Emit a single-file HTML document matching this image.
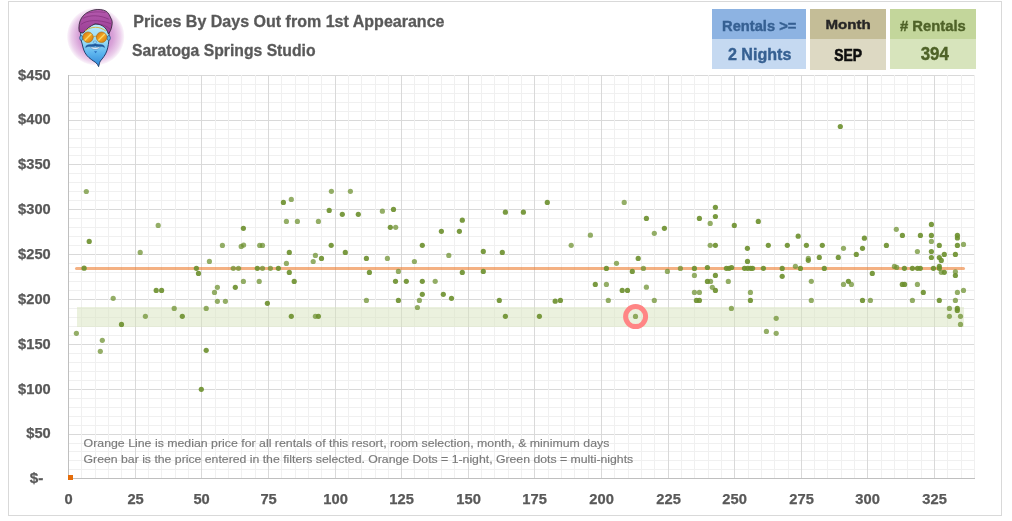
<!DOCTYPE html><html><head><meta charset="utf-8"><title>Prices By Days Out</title><style>html,body{margin:0;padding:0;background:#fff;}body{width:1012px;height:521px;overflow:hidden;}svg{display:block;}</style></head><body><svg width="1012" height="521" viewBox="0 0 1012 521"><rect x="8.5" y="1.5" width="993" height="514" fill="#fff" stroke="#d9d9d9" stroke-width="1"/><g shape-rendering="crispEdges" stroke-width="1"><line x1="68" y1="469.5" x2="975" y2="469.5" stroke="#f0f0f0"/><line x1="68" y1="460.5" x2="975" y2="460.5" stroke="#f0f0f0"/><line x1="68" y1="451.5" x2="975" y2="451.5" stroke="#f0f0f0"/><line x1="68" y1="443.5" x2="975" y2="443.5" stroke="#f0f0f0"/><line x1="68" y1="434.5" x2="975" y2="434.5" stroke="#d9d9d9"/><line x1="68" y1="425.5" x2="975" y2="425.5" stroke="#f0f0f0"/><line x1="68" y1="416.5" x2="975" y2="416.5" stroke="#f0f0f0"/><line x1="68" y1="407.5" x2="975" y2="407.5" stroke="#f0f0f0"/><line x1="68" y1="398.5" x2="975" y2="398.5" stroke="#f0f0f0"/><line x1="68" y1="389.5" x2="975" y2="389.5" stroke="#d9d9d9"/><line x1="68" y1="380.5" x2="975" y2="380.5" stroke="#f0f0f0"/><line x1="68" y1="371.5" x2="975" y2="371.5" stroke="#f0f0f0"/><line x1="68" y1="362.5" x2="975" y2="362.5" stroke="#f0f0f0"/><line x1="68" y1="353.5" x2="975" y2="353.5" stroke="#f0f0f0"/><line x1="68" y1="344.5" x2="975" y2="344.5" stroke="#d9d9d9"/><line x1="68" y1="335.5" x2="975" y2="335.5" stroke="#f0f0f0"/><line x1="68" y1="326.5" x2="975" y2="326.5" stroke="#f0f0f0"/><line x1="68" y1="317.5" x2="975" y2="317.5" stroke="#f0f0f0"/><line x1="68" y1="308.5" x2="975" y2="308.5" stroke="#f0f0f0"/><line x1="68" y1="299.5" x2="975" y2="299.5" stroke="#d9d9d9"/><line x1="68" y1="290.5" x2="975" y2="290.5" stroke="#f0f0f0"/><line x1="68" y1="281.5" x2="975" y2="281.5" stroke="#f0f0f0"/><line x1="68" y1="272.5" x2="975" y2="272.5" stroke="#f0f0f0"/><line x1="68" y1="263.5" x2="975" y2="263.5" stroke="#f0f0f0"/><line x1="68" y1="254.5" x2="975" y2="254.5" stroke="#d9d9d9"/><line x1="68" y1="245.5" x2="975" y2="245.5" stroke="#f0f0f0"/><line x1="68" y1="236.5" x2="975" y2="236.5" stroke="#f0f0f0"/><line x1="68" y1="227.5" x2="975" y2="227.5" stroke="#f0f0f0"/><line x1="68" y1="218.5" x2="975" y2="218.5" stroke="#f0f0f0"/><line x1="68" y1="209.5" x2="975" y2="209.5" stroke="#d9d9d9"/><line x1="68" y1="200.5" x2="975" y2="200.5" stroke="#f0f0f0"/><line x1="68" y1="191.5" x2="975" y2="191.5" stroke="#f0f0f0"/><line x1="68" y1="182.5" x2="975" y2="182.5" stroke="#f0f0f0"/><line x1="68" y1="173.5" x2="975" y2="173.5" stroke="#f0f0f0"/><line x1="68" y1="164.5" x2="975" y2="164.5" stroke="#d9d9d9"/><line x1="68" y1="155.5" x2="975" y2="155.5" stroke="#f0f0f0"/><line x1="68" y1="147.5" x2="975" y2="147.5" stroke="#f0f0f0"/><line x1="68" y1="138.5" x2="975" y2="138.5" stroke="#f0f0f0"/><line x1="68" y1="129.5" x2="975" y2="129.5" stroke="#f0f0f0"/><line x1="68" y1="120.5" x2="975" y2="120.5" stroke="#d9d9d9"/><line x1="68" y1="111.5" x2="975" y2="111.5" stroke="#f0f0f0"/><line x1="68" y1="102.5" x2="975" y2="102.5" stroke="#f0f0f0"/><line x1="68" y1="93.5" x2="975" y2="93.5" stroke="#f0f0f0"/><line x1="68" y1="84.5" x2="975" y2="84.5" stroke="#f0f0f0"/><line x1="68" y1="75.5" x2="975" y2="75.5" stroke="#d9d9d9"/><line x1="81.5" y1="75" x2="81.5" y2="478" stroke="#f0f0f0"/><line x1="95.5" y1="75" x2="95.5" y2="478" stroke="#f0f0f0"/><line x1="108.5" y1="75" x2="108.5" y2="478" stroke="#f0f0f0"/><line x1="121.5" y1="75" x2="121.5" y2="478" stroke="#f0f0f0"/><line x1="135.5" y1="75" x2="135.5" y2="478" stroke="#d9d9d9"/><line x1="148.5" y1="75" x2="148.5" y2="478" stroke="#f0f0f0"/><line x1="161.5" y1="75" x2="161.5" y2="478" stroke="#f0f0f0"/><line x1="175.5" y1="75" x2="175.5" y2="478" stroke="#f0f0f0"/><line x1="188.5" y1="75" x2="188.5" y2="478" stroke="#f0f0f0"/><line x1="201.5" y1="75" x2="201.5" y2="478" stroke="#d9d9d9"/><line x1="215.5" y1="75" x2="215.5" y2="478" stroke="#f0f0f0"/><line x1="228.5" y1="75" x2="228.5" y2="478" stroke="#f0f0f0"/><line x1="241.5" y1="75" x2="241.5" y2="478" stroke="#f0f0f0"/><line x1="255.5" y1="75" x2="255.5" y2="478" stroke="#f0f0f0"/><line x1="268.5" y1="75" x2="268.5" y2="478" stroke="#d9d9d9"/><line x1="281.5" y1="75" x2="281.5" y2="478" stroke="#f0f0f0"/><line x1="295.5" y1="75" x2="295.5" y2="478" stroke="#f0f0f0"/><line x1="308.5" y1="75" x2="308.5" y2="478" stroke="#f0f0f0"/><line x1="321.5" y1="75" x2="321.5" y2="478" stroke="#f0f0f0"/><line x1="335.5" y1="75" x2="335.5" y2="478" stroke="#d9d9d9"/><line x1="348.5" y1="75" x2="348.5" y2="478" stroke="#f0f0f0"/><line x1="361.5" y1="75" x2="361.5" y2="478" stroke="#f0f0f0"/><line x1="375.5" y1="75" x2="375.5" y2="478" stroke="#f0f0f0"/><line x1="388.5" y1="75" x2="388.5" y2="478" stroke="#f0f0f0"/><line x1="401.5" y1="75" x2="401.5" y2="478" stroke="#d9d9d9"/><line x1="414.5" y1="75" x2="414.5" y2="478" stroke="#f0f0f0"/><line x1="428.5" y1="75" x2="428.5" y2="478" stroke="#f0f0f0"/><line x1="441.5" y1="75" x2="441.5" y2="478" stroke="#f0f0f0"/><line x1="454.5" y1="75" x2="454.5" y2="478" stroke="#f0f0f0"/><line x1="468.5" y1="75" x2="468.5" y2="478" stroke="#d9d9d9"/><line x1="481.5" y1="75" x2="481.5" y2="478" stroke="#f0f0f0"/><line x1="494.5" y1="75" x2="494.5" y2="478" stroke="#f0f0f0"/><line x1="508.5" y1="75" x2="508.5" y2="478" stroke="#f0f0f0"/><line x1="521.5" y1="75" x2="521.5" y2="478" stroke="#f0f0f0"/><line x1="534.5" y1="75" x2="534.5" y2="478" stroke="#d9d9d9"/><line x1="548.5" y1="75" x2="548.5" y2="478" stroke="#f0f0f0"/><line x1="561.5" y1="75" x2="561.5" y2="478" stroke="#f0f0f0"/><line x1="574.5" y1="75" x2="574.5" y2="478" stroke="#f0f0f0"/><line x1="588.5" y1="75" x2="588.5" y2="478" stroke="#f0f0f0"/><line x1="601.5" y1="75" x2="601.5" y2="478" stroke="#d9d9d9"/><line x1="614.5" y1="75" x2="614.5" y2="478" stroke="#f0f0f0"/><line x1="628.5" y1="75" x2="628.5" y2="478" stroke="#f0f0f0"/><line x1="641.5" y1="75" x2="641.5" y2="478" stroke="#f0f0f0"/><line x1="654.5" y1="75" x2="654.5" y2="478" stroke="#f0f0f0"/><line x1="668.5" y1="75" x2="668.5" y2="478" stroke="#d9d9d9"/><line x1="681.5" y1="75" x2="681.5" y2="478" stroke="#f0f0f0"/><line x1="694.5" y1="75" x2="694.5" y2="478" stroke="#f0f0f0"/><line x1="708.5" y1="75" x2="708.5" y2="478" stroke="#f0f0f0"/><line x1="721.5" y1="75" x2="721.5" y2="478" stroke="#f0f0f0"/><line x1="734.5" y1="75" x2="734.5" y2="478" stroke="#d9d9d9"/><line x1="748.5" y1="75" x2="748.5" y2="478" stroke="#f0f0f0"/><line x1="761.5" y1="75" x2="761.5" y2="478" stroke="#f0f0f0"/><line x1="774.5" y1="75" x2="774.5" y2="478" stroke="#f0f0f0"/><line x1="788.5" y1="75" x2="788.5" y2="478" stroke="#f0f0f0"/><line x1="801.5" y1="75" x2="801.5" y2="478" stroke="#d9d9d9"/><line x1="814.5" y1="75" x2="814.5" y2="478" stroke="#f0f0f0"/><line x1="827.5" y1="75" x2="827.5" y2="478" stroke="#f0f0f0"/><line x1="841.5" y1="75" x2="841.5" y2="478" stroke="#f0f0f0"/><line x1="854.5" y1="75" x2="854.5" y2="478" stroke="#f0f0f0"/><line x1="867.5" y1="75" x2="867.5" y2="478" stroke="#d9d9d9"/><line x1="881.5" y1="75" x2="881.5" y2="478" stroke="#f0f0f0"/><line x1="894.5" y1="75" x2="894.5" y2="478" stroke="#f0f0f0"/><line x1="907.5" y1="75" x2="907.5" y2="478" stroke="#f0f0f0"/><line x1="921.5" y1="75" x2="921.5" y2="478" stroke="#f0f0f0"/><line x1="934.5" y1="75" x2="934.5" y2="478" stroke="#d9d9d9"/><line x1="947.5" y1="75" x2="947.5" y2="478" stroke="#f0f0f0"/><line x1="961.5" y1="75" x2="961.5" y2="478" stroke="#f0f0f0"/><line x1="974.5" y1="75" x2="974.5" y2="478" stroke="#f0f0f0"/></g><rect x="77" y="307" width="887" height="20" fill="#d7e4bd" fill-opacity="0.5"/><line x1="76.5" y1="268.4" x2="963.5" y2="268.4" stroke="#ed7d31" stroke-opacity="0.6" stroke-width="3" stroke-linecap="round"/><g shape-rendering="crispEdges"><line x1="68.5" y1="75" x2="68.5" y2="479" stroke="#bfbfbf"/><line x1="68" y1="478.5" x2="975" y2="478.5" stroke="#bfbfbf"/></g><g fill="#6b8f2c"><circle cx="86.3" cy="191.5" r="2.6" fill-opacity="0.72"/><circle cx="283.4" cy="202.4" r="2.6" fill-opacity="0.9"/><circle cx="291.3" cy="199.4" r="2.6" fill-opacity="0.72"/><circle cx="331.4" cy="191.3" r="2.6" fill-opacity="0.72"/><circle cx="350.4" cy="191.3" r="2.6" fill-opacity="0.72"/><circle cx="329.2" cy="210.4" r="2.6" fill-opacity="0.9"/><circle cx="342.3" cy="214.3" r="2.6" fill-opacity="0.9"/><circle cx="358.3" cy="214.3" r="2.6" fill-opacity="0.9"/><circle cx="382.4" cy="211.2" r="2.6" fill-opacity="0.72"/><circle cx="393.5" cy="209.4" r="2.6" fill-opacity="0.9"/><circle cx="547.3" cy="202.4" r="2.6" fill-opacity="0.9"/><circle cx="624.2" cy="202.4" r="2.6" fill-opacity="0.72"/><circle cx="505.4" cy="212.2" r="2.6" fill-opacity="0.9"/><circle cx="523.4" cy="212.2" r="2.6" fill-opacity="0.9"/><circle cx="715.4" cy="207.3" r="2.6" fill-opacity="0.9"/><circle cx="840.3" cy="126.5" r="2.6" fill-opacity="0.9"/><circle cx="89.2" cy="241.4" r="2.6" fill-opacity="0.9"/><circle cx="84.1" cy="268.2" r="2.6" fill-opacity="0.9"/><circle cx="158.2" cy="225.4" r="2.6" fill-opacity="0.72"/><circle cx="140.2" cy="252.4" r="2.6" fill-opacity="0.72"/><circle cx="113.2" cy="298.3" r="2.6" fill-opacity="0.72"/><circle cx="156.2" cy="290.4" r="2.6" fill-opacity="0.9"/><circle cx="161.6" cy="290.4" r="2.6" fill-opacity="0.9"/><circle cx="196.4" cy="268.3" r="2.6" fill-opacity="0.9"/><circle cx="198.5" cy="273.4" r="2.6" fill-opacity="0.9"/><circle cx="209.4" cy="261.4" r="2.6" fill-opacity="0.72"/><circle cx="222.4" cy="245.4" r="2.6" fill-opacity="0.72"/><circle cx="243.4" cy="228.3" r="2.6" fill-opacity="0.9"/><circle cx="241.2" cy="246.4" r="2.6" fill-opacity="0.72"/><circle cx="243.6" cy="245.1" r="2.6" fill-opacity="0.72"/><circle cx="259.7" cy="245.4" r="2.6" fill-opacity="0.72"/><circle cx="262.5" cy="245.4" r="2.6" fill-opacity="0.72"/><circle cx="233.3" cy="268.3" r="2.6" fill-opacity="0.72"/><circle cx="238.5" cy="268.3" r="2.6" fill-opacity="0.72"/><circle cx="257.3" cy="268.3" r="2.6" fill-opacity="0.9"/><circle cx="262.5" cy="268.3" r="2.6" fill-opacity="0.72"/><circle cx="270.4" cy="268.3" r="2.6" fill-opacity="0.72"/><circle cx="278.4" cy="268.3" r="2.6" fill-opacity="0.9"/><circle cx="243.4" cy="281.4" r="2.6" fill-opacity="0.72"/><circle cx="259.2" cy="281.4" r="2.6" fill-opacity="0.72"/><circle cx="217.4" cy="287.3" r="2.6" fill-opacity="0.72"/><circle cx="235.3" cy="287.3" r="2.6" fill-opacity="0.9"/><circle cx="214.5" cy="292.4" r="2.6" fill-opacity="0.72"/><circle cx="217.4" cy="301.3" r="2.6" fill-opacity="0.72"/><circle cx="225.4" cy="301.3" r="2.6" fill-opacity="0.72"/><circle cx="286.4" cy="221.4" r="2.6" fill-opacity="0.72"/><circle cx="297.4" cy="221.4" r="2.6" fill-opacity="0.72"/><circle cx="318.4" cy="221.4" r="2.6" fill-opacity="0.72"/><circle cx="390.3" cy="227.3" r="2.6" fill-opacity="0.9"/><circle cx="395.7" cy="227.3" r="2.6" fill-opacity="0.72"/><circle cx="441.4" cy="231.3" r="2.6" fill-opacity="0.9"/><circle cx="331.2" cy="245.3" r="2.6" fill-opacity="0.9"/><circle cx="422.3" cy="245.3" r="2.6" fill-opacity="0.9"/><circle cx="289.3" cy="252.4" r="2.6" fill-opacity="0.9"/><circle cx="345.3" cy="252.4" r="2.6" fill-opacity="0.9"/><circle cx="315.4" cy="255.4" r="2.6" fill-opacity="0.72"/><circle cx="321.5" cy="258.4" r="2.6" fill-opacity="0.9"/><circle cx="313.2" cy="261.5" r="2.6" fill-opacity="0.72"/><circle cx="366.4" cy="258.4" r="2.6" fill-opacity="0.9"/><circle cx="387.4" cy="258.4" r="2.6" fill-opacity="0.72"/><circle cx="414.4" cy="261.5" r="2.6" fill-opacity="0.72"/><circle cx="448.8" cy="255.4" r="2.6" fill-opacity="0.72"/><circle cx="286.4" cy="263.4" r="2.6" fill-opacity="0.72"/><circle cx="289.3" cy="272.4" r="2.6" fill-opacity="0.9"/><circle cx="369.4" cy="272.4" r="2.6" fill-opacity="0.9"/><circle cx="398.4" cy="271.4" r="2.6" fill-opacity="0.72"/><circle cx="294.2" cy="281.4" r="2.6" fill-opacity="0.9"/><circle cx="395.5" cy="281.3" r="2.6" fill-opacity="0.9"/><circle cx="406.3" cy="281.3" r="2.6" fill-opacity="0.9"/><circle cx="422.3" cy="281.3" r="2.6" fill-opacity="0.9"/><circle cx="435.2" cy="281.3" r="2.6" fill-opacity="0.72"/><circle cx="422.3" cy="294.3" r="2.6" fill-opacity="0.9"/><circle cx="443.3" cy="294.3" r="2.6" fill-opacity="0.9"/><circle cx="267.4" cy="303.3" r="2.6" fill-opacity="0.9"/><circle cx="366.4" cy="300.4" r="2.6" fill-opacity="0.72"/><circle cx="398.4" cy="300.4" r="2.6" fill-opacity="0.9"/><circle cx="419.4" cy="300.4" r="2.6" fill-opacity="0.72"/><circle cx="462.3" cy="220.2" r="2.6" fill-opacity="0.9"/><circle cx="459.4" cy="231.3" r="2.6" fill-opacity="0.9"/><circle cx="590.4" cy="235.2" r="2.6" fill-opacity="0.72"/><circle cx="571.2" cy="245.3" r="2.6" fill-opacity="0.72"/><circle cx="483.3" cy="251.4" r="2.6" fill-opacity="0.9"/><circle cx="502.3" cy="252.4" r="2.6" fill-opacity="0.9"/><circle cx="638.2" cy="258.4" r="2.6" fill-opacity="0.9"/><circle cx="616.5" cy="263.3" r="2.6" fill-opacity="0.72"/><circle cx="606.4" cy="268.4" r="2.6" fill-opacity="0.9"/><circle cx="462.3" cy="272.4" r="2.6" fill-opacity="0.9"/><circle cx="483.3" cy="271.4" r="2.6" fill-opacity="0.9"/><circle cx="632.3" cy="271.4" r="2.6" fill-opacity="0.9"/><circle cx="595.3" cy="284.4" r="2.6" fill-opacity="0.9"/><circle cx="606.4" cy="284.4" r="2.6" fill-opacity="0.72"/><circle cx="622.2" cy="290.4" r="2.6" fill-opacity="0.9"/><circle cx="627.5" cy="290.4" r="2.6" fill-opacity="0.9"/><circle cx="451.5" cy="298.3" r="2.6" fill-opacity="0.9"/><circle cx="499.3" cy="300.4" r="2.6" fill-opacity="0.9"/><circle cx="555.2" cy="301.2" r="2.6" fill-opacity="0.9"/><circle cx="560.4" cy="300.4" r="2.6" fill-opacity="0.9"/><circle cx="608.3" cy="300.4" r="2.6" fill-opacity="0.72"/><circle cx="646.4" cy="218.4" r="2.6" fill-opacity="0.9"/><circle cx="699.4" cy="218.4" r="2.6" fill-opacity="0.9"/><circle cx="715.4" cy="216.5" r="2.6" fill-opacity="0.9"/><circle cx="710.2" cy="223.4" r="2.6" fill-opacity="0.72"/><circle cx="734.3" cy="225.4" r="2.6" fill-opacity="0.9"/><circle cx="758.3" cy="221.4" r="2.6" fill-opacity="0.9"/><circle cx="664.4" cy="228.3" r="2.6" fill-opacity="0.9"/><circle cx="654.3" cy="233.3" r="2.6" fill-opacity="0.72"/><circle cx="798.2" cy="236.2" r="2.6" fill-opacity="0.9"/><circle cx="710.2" cy="245.3" r="2.6" fill-opacity="0.72"/><circle cx="715.4" cy="245.3" r="2.6" fill-opacity="0.9"/><circle cx="747.4" cy="248.3" r="2.6" fill-opacity="0.9"/><circle cx="768.3" cy="245.3" r="2.6" fill-opacity="0.9"/><circle cx="787.3" cy="245.3" r="2.6" fill-opacity="0.9"/><circle cx="806.4" cy="245.3" r="2.6" fill-opacity="0.9"/><circle cx="822.3" cy="245.3" r="2.6" fill-opacity="0.9"/><circle cx="747.5" cy="261.4" r="2.6" fill-opacity="0.9"/><circle cx="808.3" cy="258.4" r="2.6" fill-opacity="0.72"/><circle cx="808.3" cy="260.3" r="2.6" fill-opacity="0.9"/><circle cx="819.3" cy="257.4" r="2.6" fill-opacity="0.9"/><circle cx="795.4" cy="266.3" r="2.6" fill-opacity="0.72"/><circle cx="643.4" cy="268.4" r="2.6" fill-opacity="0.72"/><circle cx="667.4" cy="271.4" r="2.6" fill-opacity="0.72"/><circle cx="680.4" cy="268.4" r="2.6" fill-opacity="0.72"/><circle cx="694.4" cy="268.4" r="2.6" fill-opacity="0.9"/><circle cx="707.4" cy="267.5" r="2.6" fill-opacity="0.9"/><circle cx="726.4" cy="268.3" r="2.6" fill-opacity="0.9"/><circle cx="729.1" cy="268.3" r="2.6" fill-opacity="0.9"/><circle cx="731.6" cy="267.5" r="2.6" fill-opacity="0.9"/><circle cx="744.5" cy="268.3" r="2.6" fill-opacity="0.9"/><circle cx="747.6" cy="268.3" r="2.6" fill-opacity="0.9"/><circle cx="750.6" cy="268.3" r="2.6" fill-opacity="0.9"/><circle cx="752.6" cy="268.3" r="2.6" fill-opacity="0.9"/><circle cx="763.4" cy="268.3" r="2.6" fill-opacity="0.9"/><circle cx="782.2" cy="268.4" r="2.6" fill-opacity="0.9"/><circle cx="800.4" cy="268.4" r="2.6" fill-opacity="0.9"/><circle cx="824.3" cy="268.4" r="2.6" fill-opacity="0.9"/><circle cx="694.4" cy="275.4" r="2.6" fill-opacity="0.72"/><circle cx="715.4" cy="275.4" r="2.6" fill-opacity="0.9"/><circle cx="782.2" cy="276.3" r="2.6" fill-opacity="0.9"/><circle cx="707.4" cy="281.4" r="2.6" fill-opacity="0.9"/><circle cx="710.6" cy="281.4" r="2.6" fill-opacity="0.72"/><circle cx="728.3" cy="281.4" r="2.6" fill-opacity="0.72"/><circle cx="811.3" cy="281.3" r="2.6" fill-opacity="0.72"/><circle cx="646.4" cy="287.2" r="2.6" fill-opacity="0.72"/><circle cx="712.3" cy="287.3" r="2.6" fill-opacity="0.72"/><circle cx="715.4" cy="290.4" r="2.6" fill-opacity="0.9"/><circle cx="694.4" cy="292.4" r="2.6" fill-opacity="0.72"/><circle cx="699.4" cy="292.4" r="2.6" fill-opacity="0.72"/><circle cx="750.4" cy="292.4" r="2.6" fill-opacity="0.72"/><circle cx="654.3" cy="300.4" r="2.6" fill-opacity="0.72"/><circle cx="696.4" cy="300.4" r="2.6" fill-opacity="0.9"/><circle cx="699.4" cy="300.4" r="2.6" fill-opacity="0.9"/><circle cx="750.4" cy="300.4" r="2.6" fill-opacity="0.9"/><circle cx="811.3" cy="300.4" r="2.6" fill-opacity="0.72"/><circle cx="838.3" cy="257.4" r="2.6" fill-opacity="0.9"/><circle cx="843.5" cy="248.3" r="2.6" fill-opacity="0.72"/><circle cx="856.3" cy="254.4" r="2.6" fill-opacity="0.9"/><circle cx="862.5" cy="248.3" r="2.6" fill-opacity="0.9"/><circle cx="864.4" cy="238.2" r="2.6" fill-opacity="0.9"/><circle cx="886.4" cy="245.4" r="2.6" fill-opacity="0.9"/><circle cx="896.3" cy="229.3" r="2.6" fill-opacity="0.72"/><circle cx="902.4" cy="235.4" r="2.6" fill-opacity="0.9"/><circle cx="920.4" cy="235.4" r="2.6" fill-opacity="0.9"/><circle cx="931.4" cy="224.4" r="2.6" fill-opacity="0.9"/><circle cx="931.4" cy="235.4" r="2.6" fill-opacity="0.9"/><circle cx="931.4" cy="241.4" r="2.6" fill-opacity="0.72"/><circle cx="917.4" cy="251.5" r="2.6" fill-opacity="0.72"/><circle cx="931.4" cy="251.5" r="2.6" fill-opacity="0.9"/><circle cx="931.4" cy="257.5" r="2.6" fill-opacity="0.9"/><circle cx="939.3" cy="245.4" r="2.6" fill-opacity="0.9"/><circle cx="944.3" cy="254.4" r="2.6" fill-opacity="0.9"/><circle cx="939.3" cy="257.5" r="2.6" fill-opacity="0.9"/><circle cx="941.3" cy="260.4" r="2.6" fill-opacity="0.9"/><circle cx="957.4" cy="235.3" r="2.6" fill-opacity="0.9"/><circle cx="957.4" cy="238.0" r="2.6" fill-opacity="0.9"/><circle cx="957.4" cy="245.4" r="2.6" fill-opacity="0.9"/><circle cx="963.5" cy="244.4" r="2.6" fill-opacity="0.72"/><circle cx="955.4" cy="254.4" r="2.6" fill-opacity="0.9"/><circle cx="894.4" cy="266.4" r="2.6" fill-opacity="0.72"/><circle cx="896.7" cy="267.4" r="2.6" fill-opacity="0.72"/><circle cx="904.4" cy="268.3" r="2.6" fill-opacity="0.9"/><circle cx="912.4" cy="268.3" r="2.6" fill-opacity="0.9"/><circle cx="917.5" cy="268.3" r="2.6" fill-opacity="0.9"/><circle cx="920.3" cy="268.3" r="2.6" fill-opacity="0.9"/><circle cx="933.4" cy="268.3" r="2.6" fill-opacity="0.9"/><circle cx="939.3" cy="266.4" r="2.6" fill-opacity="0.9"/><circle cx="939.3" cy="268.3" r="2.6" fill-opacity="0.9"/><circle cx="941.3" cy="272.3" r="2.6" fill-opacity="0.72"/><circle cx="944.3" cy="272.3" r="2.6" fill-opacity="0.9"/><circle cx="955.4" cy="271.8" r="2.6" fill-opacity="0.72"/><circle cx="955.4" cy="275.5" r="2.6" fill-opacity="0.9"/><circle cx="872.3" cy="273.4" r="2.6" fill-opacity="0.9"/><circle cx="848.4" cy="281.3" r="2.6" fill-opacity="0.9"/><circle cx="843.5" cy="284.4" r="2.6" fill-opacity="0.72"/><circle cx="851.4" cy="284.4" r="2.6" fill-opacity="0.72"/><circle cx="902.3" cy="284.4" r="2.6" fill-opacity="0.9"/><circle cx="904.6" cy="284.4" r="2.6" fill-opacity="0.9"/><circle cx="917.4" cy="284.4" r="2.6" fill-opacity="0.72"/><circle cx="923.3" cy="292.4" r="2.6" fill-opacity="0.9"/><circle cx="957.4" cy="292.4" r="2.6" fill-opacity="0.72"/><circle cx="963.5" cy="290.4" r="2.6" fill-opacity="0.72"/><circle cx="862.5" cy="300.4" r="2.6" fill-opacity="0.9"/><circle cx="870.4" cy="300.4" r="2.6" fill-opacity="0.72"/><circle cx="912.4" cy="300.4" r="2.6" fill-opacity="0.72"/><circle cx="939.3" cy="300.4" r="2.6" fill-opacity="0.9"/><circle cx="955.4" cy="300.4" r="2.6" fill-opacity="0.72"/><circle cx="174.2" cy="308.4" r="2.6" fill-opacity="0.72"/><circle cx="206.2" cy="308.4" r="2.6" fill-opacity="0.72"/><circle cx="145.4" cy="316.3" r="2.6" fill-opacity="0.72"/><circle cx="182.3" cy="316.3" r="2.6" fill-opacity="0.9"/><circle cx="121.5" cy="324.4" r="2.6" fill-opacity="0.9"/><circle cx="76.4" cy="333.3" r="2.6" fill-opacity="0.72"/><circle cx="102.3" cy="340.3" r="2.6" fill-opacity="0.72"/><circle cx="100.3" cy="351.3" r="2.6" fill-opacity="0.72"/><circle cx="206.2" cy="350.3" r="2.6" fill-opacity="0.9"/><circle cx="201.3" cy="389.3" r="2.6" fill-opacity="0.9"/><circle cx="291.3" cy="316.3" r="2.6" fill-opacity="0.9"/><circle cx="315.4" cy="316.3" r="2.6" fill-opacity="0.72"/><circle cx="318.4" cy="316.3" r="2.6" fill-opacity="0.9"/><circle cx="417.4" cy="307.5" r="2.6" fill-opacity="0.72"/><circle cx="505.4" cy="316.3" r="2.6" fill-opacity="0.9"/><circle cx="539.4" cy="316.3" r="2.6" fill-opacity="0.9"/><circle cx="635.5" cy="316.4" r="2.6" fill-opacity="0.72"/><circle cx="731.4" cy="308.4" r="2.6" fill-opacity="0.72"/><circle cx="776.2" cy="318.3" r="2.6" fill-opacity="0.72"/><circle cx="766.4" cy="331.4" r="2.6" fill-opacity="0.72"/><circle cx="776.2" cy="333.3" r="2.6" fill-opacity="0.72"/><circle cx="949.4" cy="308.4" r="2.6" fill-opacity="0.72"/><circle cx="957.3" cy="308.4" r="2.6" fill-opacity="0.9"/><circle cx="957.3" cy="310.4" r="2.6" fill-opacity="0.9"/><circle cx="949.4" cy="316.3" r="2.6" fill-opacity="0.72"/><circle cx="960.5" cy="316.3" r="2.6" fill-opacity="0.72"/><circle cx="960.5" cy="324.4" r="2.6" fill-opacity="0.72"/></g><circle cx="635.6" cy="316.6" r="10" fill="none" stroke="#ff8585" stroke-width="5"/><rect x="68" y="475" width="5" height="5" fill="#e46c0a"/><g font-family="'Liberation Sans', Arial, sans-serif" font-weight="bold" font-size="14" fill="#595959" stroke="#595959" stroke-width="0.25"><text x="50.7" y="438" text-anchor="end" textLength="24.45" lengthAdjust="spacingAndGlyphs">$50</text><text x="50.7" y="394" text-anchor="end" textLength="32.6" lengthAdjust="spacingAndGlyphs">$100</text><text x="50.7" y="349" text-anchor="end" textLength="32.6" lengthAdjust="spacingAndGlyphs">$150</text><text x="50.7" y="304" text-anchor="end" textLength="32.6" lengthAdjust="spacingAndGlyphs">$200</text><text x="50.7" y="259" text-anchor="end" textLength="32.6" lengthAdjust="spacingAndGlyphs">$250</text><text x="50.7" y="214" text-anchor="end" textLength="32.6" lengthAdjust="spacingAndGlyphs">$300</text><text x="50.7" y="169" text-anchor="end" textLength="32.6" lengthAdjust="spacingAndGlyphs">$350</text><text x="50.7" y="124" text-anchor="end" textLength="32.6" lengthAdjust="spacingAndGlyphs">$400</text><text x="50.7" y="80" text-anchor="end" textLength="32.6" lengthAdjust="spacingAndGlyphs">$450</text><text x="43.4" y="483" text-anchor="end" textLength="13.6" lengthAdjust="spacingAndGlyphs">$-</text></g><g font-family="'Liberation Sans', Arial, sans-serif" font-weight="bold" font-size="14" fill="#595959" stroke="#595959" stroke-width="0.25"><text x="68.6" y="504" text-anchor="middle" textLength="8.17" lengthAdjust="spacingAndGlyphs">0</text><text x="135.6" y="504" text-anchor="middle" textLength="16.35" lengthAdjust="spacingAndGlyphs">25</text><text x="201.6" y="504" text-anchor="middle" textLength="16.35" lengthAdjust="spacingAndGlyphs">50</text><text x="268.6" y="504" text-anchor="middle" textLength="16.35" lengthAdjust="spacingAndGlyphs">75</text><text x="335.6" y="504" text-anchor="middle" textLength="24.52" lengthAdjust="spacingAndGlyphs">100</text><text x="401.6" y="504" text-anchor="middle" textLength="24.52" lengthAdjust="spacingAndGlyphs">125</text><text x="468.6" y="504" text-anchor="middle" textLength="24.52" lengthAdjust="spacingAndGlyphs">150</text><text x="534.6" y="504" text-anchor="middle" textLength="24.52" lengthAdjust="spacingAndGlyphs">175</text><text x="601.6" y="504" text-anchor="middle" textLength="24.52" lengthAdjust="spacingAndGlyphs">200</text><text x="668.6" y="504" text-anchor="middle" textLength="24.52" lengthAdjust="spacingAndGlyphs">225</text><text x="734.6" y="504" text-anchor="middle" textLength="24.52" lengthAdjust="spacingAndGlyphs">250</text><text x="801.6" y="504" text-anchor="middle" textLength="24.52" lengthAdjust="spacingAndGlyphs">275</text><text x="867.6" y="504" text-anchor="middle" textLength="24.52" lengthAdjust="spacingAndGlyphs">300</text><text x="934.6" y="504" text-anchor="middle" textLength="24.52" lengthAdjust="spacingAndGlyphs">325</text></g><text x="83.58" y="447.0" font-family="'Liberation Sans', Arial, sans-serif" font-weight="normal" font-size="11.16" fill="#7a7a7a" textLength="525.78" lengthAdjust="spacingAndGlyphs" stroke="#7a7a7a" stroke-width="0.15">Orange Line is median price for all rentals of this resort, room selection, month, &amp; minimum days</text><text x="83.59" y="463.0" font-family="'Liberation Sans', Arial, sans-serif" font-weight="normal" font-size="11.16" fill="#7a7a7a" textLength="549.6" lengthAdjust="spacingAndGlyphs" stroke="#7a7a7a" stroke-width="0.15">Green bar is the price entered in the filters selected. Orange Dots = 1-night, Green dots = multi-nights</text><text x="133.23" y="27.0" font-family="'Liberation Sans', Arial, sans-serif" font-weight="bold" font-size="16.33" fill="#595959" textLength="311.28" lengthAdjust="spacingAndGlyphs" stroke="#595959" stroke-width="0.3">Prices By Days Out from 1st Appearance</text><text x="132.08" y="56.0" font-family="'Liberation Sans', Arial, sans-serif" font-weight="bold" font-size="16.74" fill="#595959" textLength="183.47" lengthAdjust="spacingAndGlyphs" stroke="#595959" stroke-width="0.3">Saratoga Springs Studio</text><rect x="712" y="9" width="94" height="30" fill="#8db3e2"/><rect x="712" y="39" width="94" height="30" fill="#c5d9f1"/><rect x="810" y="9" width="76" height="30" fill="#c4bd97"/><rect x="810" y="39" width="76" height="31" fill="#ddd9c3"/><rect x="890" y="9" width="86" height="30" fill="#c3d69b"/><rect x="890" y="39" width="86" height="30" fill="#d7e4bc"/><text x="722.12" y="31.0" font-family="'Liberation Sans', Arial, sans-serif" font-weight="bold" font-size="14.93" fill="#366092" textLength="74.19" lengthAdjust="spacingAndGlyphs" stroke="#366092" stroke-width="0.4">Rentals &gt;=</text><text x="727.96" y="60.0" font-family="'Liberation Sans', Arial, sans-serif" font-weight="bold" font-size="17.02" fill="#366092" textLength="63.47" lengthAdjust="spacingAndGlyphs" stroke="#366092" stroke-width="0.4">2 Nights</text><text x="825.49" y="29.0" font-family="'Liberation Sans', Arial, sans-serif" font-weight="bold" font-size="13.53" fill="#262626" textLength="45.3" lengthAdjust="spacingAndGlyphs" stroke="#262626" stroke-width="0.4">Month</text><text x="834.14" y="60.8" font-family="'Liberation Sans', Arial, sans-serif" font-weight="bold" font-size="16.43" fill="#0d0d0d" textLength="27.84" lengthAdjust="spacingAndGlyphs" stroke="#0d0d0d" stroke-width="0.6">SEP</text><text x="900.05" y="31.0" font-family="'Liberation Sans', Arial, sans-serif" font-weight="bold" font-size="14.93" fill="#4f6228" textLength="65.73" lengthAdjust="spacingAndGlyphs" stroke="#4f6228" stroke-width="0.4"># Rentals</text><text x="920.64" y="60.0" font-family="'Liberation Sans', Arial, sans-serif" font-weight="bold" font-size="17.43" fill="#4f6228" textLength="28.2" lengthAdjust="spacingAndGlyphs" stroke="#4f6228" stroke-width="0.4">394</text><g id="logo">
<defs>
<radialGradient id="glow" cx="0.5" cy="0.5" r="0.5">
<stop offset="0" stop-color="#c070c0"/>
<stop offset="0.6" stop-color="#d8a2d8"/>
<stop offset="0.85" stop-color="#ecd0ec"/>
<stop offset="0.96" stop-color="#f8eef8"/>
<stop offset="1" stop-color="#ffffff"/>
</radialGradient>
<linearGradient id="face" gradientUnits="userSpaceOnUse" x1="0" y1="24" x2="0" y2="66">
<stop offset="0" stop-color="#b8ecfc"/>
<stop offset="0.45" stop-color="#92d8f6"/>
<stop offset="0.7" stop-color="#5cb4ee"/>
<stop offset="1" stop-color="#3088d8"/>
</linearGradient>
<linearGradient id="lens" x1="0.1" y1="0.1" x2="0.9" y2="0.9">
<stop offset="0" stop-color="#d87a10"/>
<stop offset="0.4" stop-color="#f0a020"/>
<stop offset="0.5" stop-color="#fbe070"/>
<stop offset="0.6" stop-color="#f0a020"/>
<stop offset="1" stop-color="#d88010"/>
</linearGradient>
<linearGradient id="turb" x1="0" y1="0" x2="0" y2="1">
<stop offset="0" stop-color="#b45aae"/>
<stop offset="1" stop-color="#9a3e94"/>
</linearGradient>
</defs>
<circle cx="95.7" cy="36.5" r="29" fill="url(#glow)"/>
<path d="M81,30 C80.2,36 80.8,40 82.2,44 C83,48 84,52 86.8,55.4 C89.5,58.6 93,60.6 95.8,62.6 C97,63.6 97.9,65 98.6,66.6 C99.2,64.8 99.3,62.8 100.4,61 C102.5,58.5 105.5,55 106.8,51 C108.2,47 108.9,42 109,37 C109.2,34 109.2,32 109,30 C107,22 84,22 81,30 Z" fill="url(#face)" stroke="#17325e" stroke-width="0.9" stroke-linejoin="round"/>
<ellipse cx="81.3" cy="38" rx="1.7" ry="2.4" fill="#5cb4ec" stroke="#1d3f70" stroke-width="0.6"/>
<ellipse cx="108.7" cy="38" rx="1.7" ry="2.4" fill="#5cb4ec" stroke="#1d3f70" stroke-width="0.6"/>
<path d="M79.2,31.5 C78.4,27 79.2,21.5 81.5,18 C84,14 88.5,11 94,9.9 C98,9.2 103,9.3 106,11.2 C108.5,12.8 109.8,15.5 110.8,18 C112.3,20 112.6,23 111.8,26 C111.3,29 110.3,31.8 108.3,33.8 C107,30 105.5,27.5 102,25.6 C99.5,24.3 97,23.8 95,23.9 C90,26 86,29.5 83.2,33 C81.6,33 80,32.5 79.2,31.5 Z" fill="url(#turb)" stroke="#2a2030" stroke-width="0.8" stroke-linejoin="round"/>
<path d="M86,13.6 C92,11.6 100,11.4 105.6,12.6" fill="none" stroke="#7a2a74" stroke-width="0.55"/>
<path d="M82.8,18.4 C90,14.6 100,15 108.8,19.2" fill="none" stroke="#7a2a74" stroke-width="0.6"/>
<path d="M80.8,24.5 C87,19.8 98,19.2 110.8,23.6" fill="none" stroke="#7a2a74" stroke-width="0.6"/>
<path d="M97.5,23.9 C102.5,24.4 107,26.2 110.2,29.4" fill="none" stroke="#7a2a74" stroke-width="0.55"/>
<path d="M85.2,31 C88.5,28.4 92,27.3 95.5,27.3 C99,27.3 102.5,28.4 105.8,31" fill="none" stroke="#d8b030" stroke-width="0.9"/>
<path d="M93,37 C94.8,36 96.6,36 98.3,37" fill="none" stroke="#c89020" stroke-width="0.8"/>
<circle cx="88" cy="37.2" r="5.2" fill="url(#lens)" stroke="#a87018" stroke-width="0.7"/>
<circle cx="101.6" cy="37.2" r="5.2" fill="url(#lens)" stroke="#a87018" stroke-width="0.7"/>
<ellipse cx="95" cy="42.2" rx="1.8" ry="1.3" fill="#9cdcf8" stroke="#2f6fb0" stroke-width="0.4"/>
<path d="M85.6,47.6 C85.6,45.2 88,44.2 91,44.4 C93,44.5 94.4,44.2 95.3,43.8 C96.2,44.2 97.6,44.5 99.6,44.4 C102.6,44.2 104.6,45.2 104.6,47.6 C103.6,46.6 102,46.3 99.6,46.5 C97.8,46.7 96.2,46.5 95.3,46 C94.4,46.5 92.8,46.7 91,46.5 C88.6,46.3 86.8,46.6 85.6,47.6 Z" fill="#1f5aa0" stroke="#1a4a88" stroke-width="0.3"/>
<path d="M90.3,46.7 C93.5,47.6 97.3,47.6 100.3,46.7 C99.6,48.6 97.4,49.3 95.3,49.3 C93.2,49.3 91.1,48.6 90.3,46.7 Z" fill="#f4fbff" stroke="#2a5a98" stroke-width="0.4"/>
<path d="M94,51.3 L95.6,53.2 L97.1,51.3 Z" fill="#2a6fc0"/>
</g>
</svg></body></html>
